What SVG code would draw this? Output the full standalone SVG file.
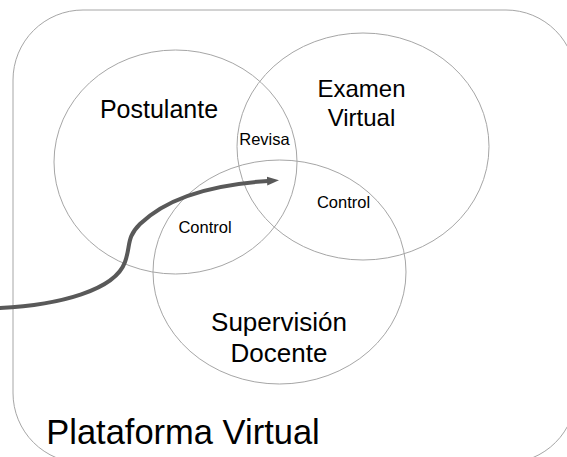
<svg xmlns="http://www.w3.org/2000/svg" width="567" height="457" viewBox="0 0 567 457">
  <style>
    .set { fill: none; stroke: #a6a6a6; stroke-width: 1; }
    .big { font-family: "Liberation Sans", Arial, sans-serif; fill: #000; text-anchor: middle; }
    .small { font-family: "Liberation Sans", Arial, sans-serif; fill: #000; text-anchor: middle; font-size: 16.5px; }
    .conn { fill: none; stroke: #595959; stroke-width: 4; stroke-linecap: round; }
  </style>
  <defs>
    <marker id="ah" markerUnits="userSpaceOnUse" markerWidth="12" markerHeight="10" refX="1" refY="5" orient="auto">
      <path d="M0,0.5 L12,5 L0,9.5 z" fill="#595959"/>
    </marker>
  </defs>
  <rect width="567" height="457" fill="#fff"/>
  <g id="plataforma">
    <rect x="13" y="10" width="563" height="453" rx="70" ry="70" fill="#fff" stroke="#a6a6a6" stroke-width="1"/>
    <text class="big" x="183" y="444" font-size="34.5">Plataforma Virtual</text>
  </g>
  <g id="postulante">
    <ellipse class="set" cx="175.5" cy="162" rx="121.5" ry="112"/>
    <text class="big" x="159" y="118" font-size="25">Postulante</text>
  </g>
  <g id="examen">
    <ellipse class="set" cx="363" cy="146.5" rx="126" ry="113.5"/>
    <text class="big" x="361.5" y="97" font-size="24">Examen</text>
    <text class="big" x="361.5" y="126" font-size="24">Virtual</text>
  </g>
  <g id="supervision">
    <ellipse class="set" cx="279.5" cy="272" rx="126.5" ry="112"/>
    <text class="big" x="279" y="331" font-size="26">Supervisión</text>
    <text class="big" x="279" y="362" font-size="26">Docente</text>
  </g>
  <g id="labels">
    <text class="small" x="264.5" y="145">Revisa</text>
    <text class="small" x="205" y="233">Control</text>
    <text class="small" x="343.5" y="208">Control</text>
  </g>
  <g id="connectors">
    <path class="conn" d="M0,308 C60,305 115,290 125,262 C131,245 126,238 140,224 C170,195 220,184 268,181" marker-end="url(#ah)"/>
  </g>
</svg>
